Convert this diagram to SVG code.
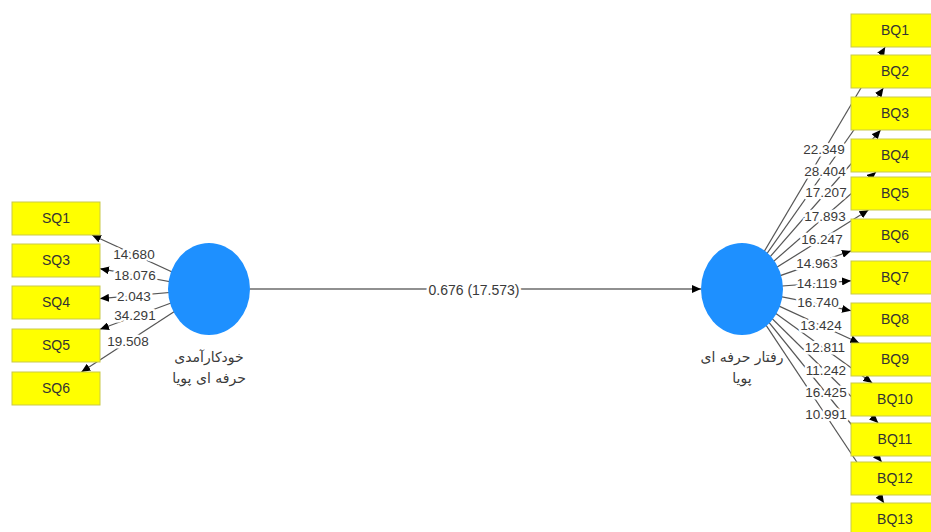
<svg xmlns="http://www.w3.org/2000/svg" width="931" height="532" viewBox="0 0 931 532">
<defs>
<marker id="arr" markerUnits="userSpaceOnUse" markerWidth="10" markerHeight="8" refX="9" refY="4" orient="auto">
<path d="M0,0 L9,4 L0,8 Z" fill="#000"/>
</marker>
<style>
.ln{stroke:#555;stroke-width:1.2;fill:none;marker-end:url(#arr)}
.main{stroke:#222;stroke-width:1.2;fill:none;marker-end:url(#arr)}
.lbl{font-family:"Liberation Sans",Arial,sans-serif;font-size:13.5px;fill:#3a3a3a;text-anchor:middle;stroke:#fff;stroke-width:5px;paint-order:stroke;stroke-linejoin:round}
.box{fill:#ffff00;stroke:#c9c94a;stroke-width:1}
.bt{font-family:"Liberation Sans",Arial,sans-serif;font-size:14px;fill:#333;text-anchor:middle}
.lv{fill:#1e90ff}
.fa{font-family:"DejaVu Sans","Noto Sans",sans-serif;font-size:14px;fill:#3a3a3a;text-anchor:middle}
</style>
</defs>
<rect width="931" height="532" fill="#fff"/>
<g id="connectors">
<line class="main" x1="250" y1="289" x2="701" y2="289"/>
<line class="ln" x1="209" y1="289" x2="92" y2="235"/>
<line class="ln" x1="209" y1="289" x2="100" y2="268.7"/>
<line class="ln" x1="209" y1="289" x2="100" y2="298.6"/>
<line class="ln" x1="209" y1="289" x2="100" y2="329.3"/>
<line class="ln" x1="209" y1="289" x2="81.4" y2="372"/>
<line class="ln" x1="742" y1="289" x2="885.2" y2="47"/>
<line class="ln" x1="742" y1="289" x2="883.4" y2="88"/>
<line class="ln" x1="742" y1="289" x2="880.6" y2="130"/>
<line class="ln" x1="742" y1="289" x2="876" y2="172"/>
<line class="ln" x1="742" y1="289" x2="868.5" y2="210"/>
<line class="ln" x1="742" y1="289" x2="851" y2="250.9"/>
<line class="ln" x1="742" y1="289" x2="851" y2="280.8"/>
<line class="ln" x1="742" y1="289" x2="851" y2="310.7"/>
<line class="ln" x1="742" y1="289" x2="859.2" y2="343"/>
<line class="ln" x1="742" y1="289" x2="872.2" y2="383"/>
<line class="ln" x1="742" y1="289" x2="878.2" y2="423"/>
<line class="ln" x1="742" y1="289" x2="881.7" y2="462"/>
<line class="ln" x1="742" y1="289" x2="884" y2="503"/>
<rect x="428" y="280" width="92" height="18" fill="#fff"/>
<text class="lbl" x="474" y="294.5" style="font-size:14px">0.676 (17.573)</text>
<text class="lbl" x="134" y="258.5">14.680</text>
<text class="lbl" x="135" y="279.5">18.076</text>
<text class="lbl" x="134" y="300.5">2.043</text>
<text class="lbl" x="135" y="319.5">34.291</text>
<text class="lbl" x="128" y="345.5">19.508</text>
<text class="lbl" x="824" y="153.5">22.349</text>
<text class="lbl" x="825" y="175.5">28.404</text>
<text class="lbl" x="826" y="196.5">17.207</text>
<text class="lbl" x="825" y="220.5">17.893</text>
<text class="lbl" x="822" y="243.5">16.247</text>
<text class="lbl" x="817" y="267.5">14.963</text>
<text class="lbl" x="817" y="287.5">14.119</text>
<text class="lbl" x="818" y="306.5">16.740</text>
<text class="lbl" x="821" y="329.5">13.424</text>
<text class="lbl" x="825" y="351.5">12.811</text>
<text class="lbl" x="826" y="374.5">11.242</text>
<text class="lbl" x="826" y="396.5">16.425</text>
<text class="lbl" x="826" y="418.5">10.991</text>
</g>
<g id="lv1"><ellipse class="lv" cx="209" cy="289" rx="41" ry="46"/><text class="fa" x="209" y="362">خودکارآمدی</text><text class="fa" x="209" y="383">حرفه ای پویا</text></g>
<g id="lv2"><ellipse class="lv" cx="742" cy="289" rx="41" ry="46"/><text class="fa" x="742" y="362">رفتار حرفه ای</text><text class="fa" x="742" y="383">پویا</text></g>
<g id="SQ1"><rect class="box" x="12" y="202" width="88" height="33"/><text class="bt" x="56" y="223">SQ1</text></g>
<g id="SQ3"><rect class="box" x="12" y="244" width="88" height="33"/><text class="bt" x="56" y="265">SQ3</text></g>
<g id="SQ4"><rect class="box" x="12" y="286" width="88" height="33"/><text class="bt" x="56" y="307">SQ4</text></g>
<g id="SQ5"><rect class="box" x="12" y="329" width="88" height="33"/><text class="bt" x="56" y="350">SQ5</text></g>
<g id="SQ6"><rect class="box" x="12" y="372" width="88" height="33"/><text class="bt" x="56" y="393">SQ6</text></g>
<g id="BQ1"><rect class="box" x="851" y="14" width="88" height="33"/><text class="bt" x="895" y="35">BQ1</text></g>
<g id="BQ2"><rect class="box" x="851" y="55" width="88" height="33"/><text class="bt" x="895" y="76">BQ2</text></g>
<g id="BQ3"><rect class="box" x="851" y="97" width="88" height="33"/><text class="bt" x="895" y="118">BQ3</text></g>
<g id="BQ4"><rect class="box" x="851" y="139" width="88" height="33"/><text class="bt" x="895" y="160">BQ4</text></g>
<g id="BQ5"><rect class="box" x="851" y="177" width="88" height="33"/><text class="bt" x="895" y="198">BQ5</text></g>
<g id="BQ6"><rect class="box" x="851" y="219" width="88" height="33"/><text class="bt" x="895" y="240">BQ6</text></g>
<g id="BQ7"><rect class="box" x="851" y="261" width="88" height="33"/><text class="bt" x="895" y="282">BQ7</text></g>
<g id="BQ8"><rect class="box" x="851" y="303" width="88" height="33"/><text class="bt" x="895" y="324">BQ8</text></g>
<g id="BQ9"><rect class="box" x="851" y="343" width="88" height="33"/><text class="bt" x="895" y="364">BQ9</text></g>
<g id="BQ10"><rect class="box" x="851" y="383" width="88" height="33"/><text class="bt" x="895" y="404">BQ10</text></g>
<g id="BQ11"><rect class="box" x="851" y="423" width="88" height="33"/><text class="bt" x="895" y="444">BQ11</text></g>
<g id="BQ12"><rect class="box" x="851" y="462" width="88" height="33"/><text class="bt" x="895" y="483">BQ12</text></g>
<g id="BQ13"><rect class="box" x="851" y="503" width="88" height="33"/><text class="bt" x="895" y="524">BQ13</text></g>
</svg>
